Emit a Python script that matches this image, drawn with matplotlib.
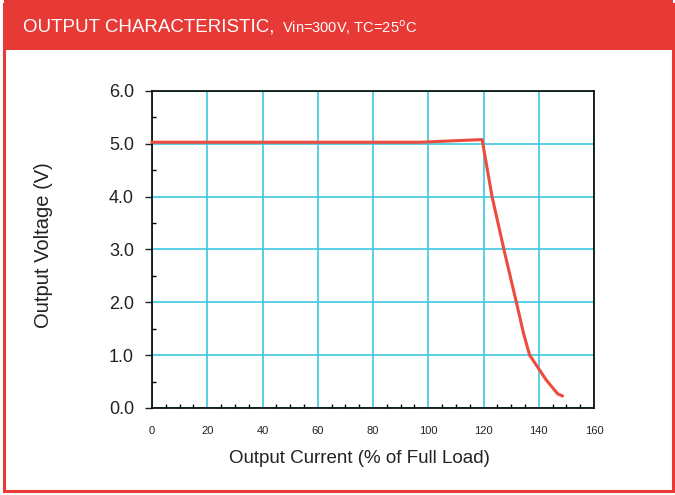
import matplotlib
matplotlib.use('Agg')
import matplotlib.pyplot as plt
from matplotlib.patches import Rectangle
from matplotlib.ticker import MultipleLocator

plt.rcParams['font.family'] = ['Liberation Sans', 'DejaVu Sans']

# output characteristic
current = [0, 20, 40, 60, 80, 97, 119.5, 123.1, 127.7, 131.9, 134.5, 136.7, 142.7, 146.9, 148.5]
voltage = [5.03, 5.03, 5.03, 5.03, 5.03, 5.03, 5.08, 4.0, 2.93, 2.0, 1.41, 1.0, 0.53, 0.265, 0.23]

x_ticks = [0, 20, 40, 60, 80, 100, 120, 140, 160]
y_ticks = [0.0, 1.0, 2.0, 3.0, 4.0, 5.0, 6.0]

RED = '#E73A37'
GRID = '#3CC8E0'
LINE = '#EE4A3E'

fig = plt.figure(figsize=(6.75, 4.95), dpi=100)
ax = fig.add_axes([0.2252, 0.1758, 0.6548, 0.6404])

# red frame and header band
fig.patches.append(Rectangle((4/675, 4/495), 669/675, 487/495, transform=fig.transFigure,
                             fill=False, ec=RED, lw=2.2, zorder=0))
fig.patches.append(Rectangle((4/675, 1-50/495), 669/675, 50/495, transform=fig.transFigure,
                             fc=RED, ec='none', zorder=0))
t1 = fig.text(23/675, 1-27/495, 'OUTPUT CHARACTERISTIC,', color='white', fontsize=13.5,
              va='center', ha='left')
r = fig.canvas.get_renderer()
end_x = t1.get_window_extent(r).x1
fig.text((end_x + 8)/675, 1-28/495, r'Vin=300V, TC=25$^{\mathrm{o}}$C', color='white',
         fontsize=10.5, va='center', ha='left')

ax.plot(current, voltage, color=LINE, lw=2.2, zorder=3, clip_on=False)

ax.set_xlim(0, 160)
ax.set_ylim(0, 6)
ax.set_xticks(x_ticks)
ax.set_yticks(y_ticks)
ax.set_yticklabels(['%.1f' % v for v in y_ticks])
ax.xaxis.set_minor_locator(MultipleLocator(5))
ax.yaxis.set_minor_locator(MultipleLocator(0.5))
ax.grid(True, which='major', color=GRID, lw=1.2, zorder=1)
ax.set_axisbelow(True)

ax.tick_params(axis='y', which='major', direction='out', length=5, width=1, pad=8, labelsize=13, colors='#222222')
ax.tick_params(axis='y', which='minor', direction='in', length=3, width=1)
ax.tick_params(axis='x', which='major', direction='in', length=0, pad=13, labelsize=8, colors='#222222')
ax.tick_params(axis='x', which='minor', direction='in', length=3, width=1)

for s in ax.spines.values():
    s.set_linewidth(1.2)
    s.set_color('black')

ax.set_xlabel('Output Current (% of Full Load)', fontsize=13.5, color='#222222')
ax.set_ylabel('Output Voltage (V)', fontsize=14.5, color='#222222')
ax.xaxis.set_label_coords(0.47, -0.132)
ax.yaxis.set_label_coords(-0.224, 0.514)

fig.savefig('out.png', dpi=100)
